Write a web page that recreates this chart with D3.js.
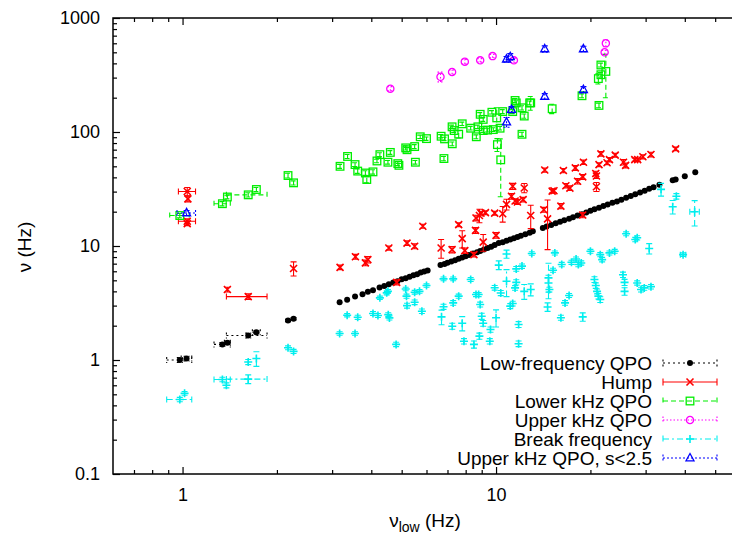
<!DOCTYPE html>
<html lang="en">
<head>
<meta charset="UTF-8">
<title>QPO frequencies vs nu_low</title>
<script src="https://d3js.org/d3.v7.min.js"></script>
<style>
  body { margin: 0; background: #fff; }
</style>
</head>
<body>
<script>
// each point: [nu_low, nu, x error, y error]
var lfqpo = [
  [0.98,1.0,0.09,0.05],[1.03,1.03,0.04,0.05],[1.34,1.37,0.08,0.05],[1.39,1.42,0.03,0.04],
  [1.62,1.64,0.24,0.08],[1.72,1.75,0.05,0.05],[2.17,2.22,0,0.05],[2.26,2.30,0,0.05],
  [3.17,3.21,0,0],[3.35,3.38,0,0],[3.55,3.6,0,0],[3.75,3.78,0,0],[3.9,3.97,0,0],[4.05,4.1,0,0],
  [4.25,4.33,0,0],[4.4,4.45,0,0],[4.55,4.62,0,0],[4.7,4.78,0,0],[4.85,4.9,0,0],[5.0,5.1,0,0],
  [5.15,5.22,0,0],[5.3,5.38,0,0],[5.45,5.55,0,0],[5.6,5.66,0,0],[5.75,5.85,0,0],[5.9,5.98,0,0],
  [6.05,6.1,0,0],[6.65,6.8,0,0],[6.85,6.95,0,0],[7.0,7.12,0,0],[7.2,7.3,0,0],[7.4,7.5,0,0],
  [7.6,7.72,0,0],[7.8,7.92,0,0],[8.0,8.15,0,0],[8.2,8.33,0,0],[8.45,8.6,0,0],[8.7,8.8,0,0],
  [8.9,9.05,0,0],[9.15,9.3,0,0],[9.4,9.6,0,0],[9.65,9.85,0,0],[9.9,10.2,0,0],[10.2,10.6,0,0],
  [10.5,10.8,0,0],[10.8,11.1,0,0],[11.1,11.4,0,0],[11.4,11.7,0,0],[11.7,12.0,0,0],[12.0,12.3,0,0],
  [12.4,12.7,0,0],[12.8,13.1,0,0],[13.1,13.5,0,0],[14.1,14.4,0,0],[14.5,14.8,0,0],[15.0,15.3,0,0],
  [15.5,15.8,0,0],[16.0,16.3,0,0],[16.5,16.8,0,0],[17.1,17.3,0,0],[17.6,17.9,0,0],[18.2,18.5,0,0],
  [18.8,19.0,0,0],[19.4,19.7,0,0],[20.0,20.4,0,0],[20.6,21.0,0,0],[21.3,21.6,0,0],[22.0,22.4,0,0],
  [22.7,23.1,0,0],[23.5,23.9,0,0],[24.3,24.6,0,0],[25.1,25.4,0,0],[26.0,26.5,0,0],[26.9,27.5,0,0],
  [27.8,28.5,0,0],[28.8,29.5,0,0],[29.8,30.6,0,0],[30.8,31.8,0,0],[31.8,32.8,0,0],[33.2,34.4,0,0],
  [36.6,37.7,0,0],[37.4,38.4,0,0],[40.0,40.9,0,0],[43.2,44.4,0,0]
];
var hump = [
  [1.035,30.1,0.065,2.5],[1.04,25.9,0,1.5],[1.035,16.5,0.065,0.8],[1.035,15.7,0,0.6],
  [1.39,4.15,0,0.2],[1.62,3.6,0.24,0.2],[2.26,6.35,0,0.9],
  [3.18,6.5,0,0.3],[3.56,8.05,0,0.4],[3.83,7.12,0,0.4],[3.9,7.6,0,0.5],[4.55,9.6,0,0.4],
  [4.82,4.8,0,0.25],[5.2,10.6,0,0.5],[5.5,9.95,0,0.5],[5.84,14.9,0,0.6],
  [6.68,9.6,0,1.8],[7.24,9.3,0,0.6],[7.6,15.4,0,0.6],[7.8,11.6,0,2.0],[7.95,9.1,0,0.5],
  [8.5,8.4,0,0.4],[8.6,13.7,0,0.8],[8.63,17.6,0,1.0],[8.85,18.5,0,2.5],[8.95,19.4,0,0.8],
  [9.1,10.8,0,1.8],[9.25,19.6,0,0.8],[9.9,19.4,0,0.8],[10.0,12.4,0,0.7],[10.5,19.2,0,3],
  [10.8,23.2,0,2.5],[11.3,33.4,0,2],[11.2,27.3,0,1.5],[11.5,24.8,0,1.2],[11.7,24.3,0,1.2],
  [12.2,25.5,0,1.2],[12.3,32.3,0,3],[12.9,18.5,0,4.3],
  [14.2,20.8,0,1],[14.6,17.3,0,8],[14.3,46.4,0,2],[15.1,30.3,0,1.2],[15.3,30.5,0,1.2],
  [16.1,22.4,0,1.2],[16.4,45.9,0,2],[16.7,33.8,0,1.5],[17.2,32.2,0,1.5],[17.9,48.4,0,2.5],
  [18.2,37,0,2],[18.9,40.4,0,2],[19.0,54.3,0,2.5],[18.9,18.7,0,1],[20.9,33.1,0,3],
  [20.9,41.1,0,2],[20.8,43.2,0,2],[21.3,51.7,0,2],[21.6,64.3,0,3],[22.6,53.7,0,2],
  [23,57.2,0,2.5],[24,62.6,0,2.5],[25.5,54.3,0,3],[25.9,51,0,2.5],[27.7,57.2,0,2],
  [28.3,57.2,0,2],[29.4,60.6,0,2.5],[31.2,63.5,0,3],[37.4,71.2,0,2.5]
];
var lowerKhz = [
  [0.98,18.5,0.07,0.8],[1.34,23.5,0.08,1],[1.39,26.9,0,1],[1.62,28.1,0.24,1.2],[1.72,31.3,0,1.3],
  [2.17,41.5,0,2],[2.26,35.8,0,1.5],
  [3.18,50,0,2],[3.36,61,0,2.5],[3.55,51.8,0,2],[3.62,45.4,0,2],[3.83,43.7,0,2],[3.87,38.3,0,2.5],
  [4.05,44.7,0,2],[4.17,55.7,0,2],[4.26,63.3,0,2.5],[4.52,54.3,0,2],[4.6,66.2,0,2.5],[4.86,52.8,0,2],
  [4.9,51,0,2],[5.15,72.6,0,3],[5.2,69.9,0,3],[5.5,74.5,0,3],[5.53,54.3,0,2],[5.73,90.8,0,3],
  [6.0,87.5,0,3],[6.68,91.8,0,3],[6.85,87,0,3],[6.82,58.5,0,2.5],[7.25,78.8,0,3],[7.24,111,0,4],
  [7.35,103,0,4],[7.6,95.7,0,7],[7.8,118,0,4],[8.3,108,0,4],[8.65,90.8,0,3.5],[8.75,111,0,4],
  [8.9,143,0,5],[9.1,129,0,5],[9.1,103,0,4],[9.4,104,0,4],[9.7,149,0,5],[9.8,105,0,4],
  [10.05,133,0,30],[10.1,77.5,0,10],[10.3,108,0,4],[10.35,57,0,30],[10.5,151,0,6],[11.3,151,0,6],
  [11.5,189,0,8],[11.6,180,0,8],[12.1,163,0,7],[12.1,95.5,0,4],[12.3,138,0,6],[12.8,180,0,7],
  [12.9,180,0,25],[15.1,160,0,15],[18.8,208,0,8],[21.3,171,0,8],[21.2,294,0,30],[21.6,387,0,15],
  [22.4,340,0,140],[21.6,318,0,15]
];
var upperKhz = [
  [4.6,240,0,10],[6.65,305,0,30],[7.24,336,0,15],[7.95,414,0,20],[8.9,425,0,15],[9.75,463,0,15],
  [11.4,425,0,20],[22.4,600,0,40],[22.2,500,0,20]
];
var breakFreq = [
  [0.98,0.45,0.09,0.02],[1.015,0.51,0,0.02],[1.34,0.675,0.08,0.03],[1.38,0.6,0,0.03],
  [1.62,0.68,0.24,0.06],[1.62,0.96,0,0.05],[1.72,1.03,0,0.15],[2.17,1.28,0,0.05],[2.26,1.19,0,0.05],
  [3.17,1.71,0,0.06],[3.55,1.71,0,0.06],[3.35,2.47,0,0.08],[3.62,2.37,0,0.1],[4.05,2.56,0,0.1],
  [4.2,2.46,0,0.1],[4.53,2.5,0,0.1],[4.57,2.34,0,0.1],[4.8,1.37,0,0.06],[4.48,3.88,0,0.15],
  [4.26,3.51,0,0.12],[4.52,4.0,0,0.15],[5.15,4.2,0,0.15],[5.18,3.63,0,0.15],[5.2,3.0,0,0.15],
  [5.5,3.21,0,0.15],[5.5,3.93,0,0.15],[5.7,4.0,0,0.15],[5.8,2.68,0,0.12],[6.0,4.5,0,0.15],
  [6.8,5.15,0,0.2],[7.3,5.15,0,0.2],[6.7,2.39,0,0.35],[6.8,2.93,0,0.15],[7.3,3.17,0,0.15],
  [7.6,3.63,0,0.15],[7.25,1.98,0,0.12],[7.8,2.1,0,0.3],[7.9,1.46,0,0.08],[8.3,5.08,0,0.2],
  [8.63,3.75,0,0.15],[8.8,3.75,0,0.15],[8.9,3.07,0,0.15],[9.0,2.42,0,0.15],[9.1,2.1,0,0.12],
  [8.85,1.62,0,0.1],[8.5,1.37,0,0.1],[9.6,1.85,0,0.1],[9.55,1.46,0,0.08],[9.9,4.3,0,0.2],
  [10.0,2.35,0,0.4],[10.2,6.8,0,0.6],[10.35,3.87,0,0.2],[10.8,4.9,0,1.3],[10.8,8.5,0,0.7],
  [11.1,2.97,0,0.15],[11.3,3.13,0,0.15],[11.6,6.3,0,0.3],[11.8,2.05,0,0.12],[12.1,6.66,0,0.3],
  [11.6,4.8,0,0.25],[11.5,4.29,0,0.2],[12.3,4.0,0,0.6],[12.9,4.15,0,0.5],[11.8,1.39,0,0.08],
  [13.0,8.6,0,0.3],[14.6,2.92,0,0.25],[14.8,4.15,0,0.2],[14.7,4.74,0,0.8],[14.7,5.25,0,1.8],
  [15.2,6.13,0,0.25],[15.4,8.7,0,0.35],[16.1,2.35,0,0.12],[16.2,6.88,0,0.3],[16.6,3.17,0,0.15],
  [17.1,3.68,0,0.15],[17.4,7.2,0,0.3],[18.0,7.7,0,0.3],[18.3,6.88,0,0.3],[18.7,7.1,0,0.3],
  [18.9,2.39,0,0.2],[20.0,9.0,0,0.35],[20.6,5.08,0,0.3],[20.8,4.5,0,0.25],[21.0,4.0,0,0.2],
  [21.2,3.63,0,0.2],[21.5,3.39,0,0.2],[21.5,8.4,0,0.35],[21.8,7.6,0,0.35],[23.0,8.7,0,0.35],
  [23.9,9.0,0,0.35],[25.4,5.6,0,0.3],[25.7,4.8,0,0.3],[25.7,4.0,0,0.3],[28.2,4.74,0,0.2],
  [29.0,4.15,0,0.2],[29.7,4.29,0,0.2],[31.2,4.4,0,0.2],[26.0,12.8,0,0.5],[27.8,11.4,0,0.5],
  [28.2,11.8,0,0.5],[30.8,9.5,0,1.0],[39.5,8.4,0.8,0.3],[33.6,31.4,0,4],[37.6,27.3,0,1.5],
  [36.6,22.1,0,3],[43.0,20.0,1.5,5]
];
var upperKhzS25 = [
  [1.03,19.5,0.07,1.0],[11.1,457,0,30],[10.8,435,0,25],[11.2,157,0,10],[10.8,122,0,12],
  [14.3,535,0,35],[19.0,535,0,30],[14.3,205,0,12],[19.0,235,0,15]
];

var xTicks = [1, 10];
var yTicks = [0.1, 1, 10, 100, 1000];
var xMinor = [0.7, 0.8, 0.9, 2, 3, 4, 5, 6, 7, 8, 9, 20, 30, 40, 50];
var yMinor = [];
[0.1, 1, 10, 100].forEach(function (d) {
  for (var k = 2; k <= 9; k++) yMinor.push(+(d * k).toPrecision(2));
});

var series = [
  { name: "Low-frequency QPO",     data: lfqpo,       color: "#000000", dash: "2,3",     mark: "dot" },
  { name: "Hump",                  data: hump,        color: "#ff0000", dash: null,      mark: "cross" },
  { name: "Lower kHz QPO",         data: lowerKhz,    color: "#00ee00", dash: "5,3",     mark: "square" },
  { name: "Upper kHz QPO",         data: upperKhz,    color: "#ff00ff", dash: "1.5,2",   mark: "circle" },
  { name: "Break frequency",       data: breakFreq,   color: "#00eeee", dash: "6,3,2,3", mark: "plus" },
  { name: "Upper kHz QPO, s<2.5",  data: upperKhzS25, color: "#0000ff", dash: "2,2",     mark: "triangle" }
];

var ancho = 732, alto = 539;
var izq = 113, der = 740, arriba = 18, abajo = 474;

var x = d3.scaleLog().domain([0.6, 60]).range([izq, der]);
var y = d3.scaleLog().domain([0.1, 1000]).range([abajo, arriba]);

var svg = d3.select("body").append("svg")
  .attr("width", ancho)
  .attr("height", alto)
  .style("font-family", "'Liberation Sans', Arial, Helvetica, sans-serif");

svg.append("defs").append("clipPath").attr("id", "area")
  .append("rect").attr("x", izq).attr("y", arriba)
  .attr("width", der - izq).attr("height", abajo - arriba);

// axes, ticks pointing inward like gnuplot
function eje(gen, tx, ty, vals, size, labels, pad) {
  var g = svg.append("g")
    .attr("transform", "translate(" + tx + "," + ty + ")")
    .call(gen.tickValues(vals).tickSizeInner(size).tickSizeOuter(0)
      .tickPadding(pad || 0)
      .tickFormat(labels ? function (d) { return d; } : ""));
  g.select(".domain").remove();
  g.selectAll("line").attr("stroke", "#000").attr("stroke-width", 1.2);
  g.selectAll("text").attr("font-size", 18).attr("fill", "#000").style("font-family", "inherit");
  return g;
}
eje(d3.axisBottom(x), 0, abajo, xTicks, -7, true, 14);
eje(d3.axisBottom(x), 0, abajo, xMinor, -4, false);
eje(d3.axisTop(x), 0, arriba, xTicks, -7, false);
eje(d3.axisTop(x), 0, arriba, xMinor, -4, false);
eje(d3.axisLeft(y), izq, 0, yTicks, -7, true, 13);
eje(d3.axisLeft(y), izq, 0, yMinor, -4, false);
eje(d3.axisRight(y), der, 0, yTicks, -7, false);
eje(d3.axisRight(y), der, 0, yMinor, -4, false);

svg.append("rect")
  .attr("x", izq).attr("y", arriba)
  .attr("width", der - izq).attr("height", abajo - arriba)
  .attr("fill", "none").attr("stroke", "#000").attr("stroke-width", 1.5);

// axis titles
svg.append("text")
  .attr("transform", "translate(31,247) rotate(-90)")
  .attr("text-anchor", "middle")
  .attr("font-size", 19)
  .text("\u03bd (Hz)");

var xt = svg.append("text")
  .attr("x", 425).attr("y", 527)
  .attr("text-anchor", "middle")
  .attr("font-size", 19);
xt.append("tspan").text("\u03bd");
xt.append("tspan").attr("font-size", 14).attr("dy", 5).text("low");
xt.append("tspan").attr("dy", -5).text(" (Hz)");

// markers
function marca(g, tipo, color) {
  if (tipo == "dot") {
    g.append("circle").attr("r", 3).attr("fill", color);
  } else if (tipo == "cross") {
    g.append("path").attr("d", "M-3.5,-3.5L3.5,3.5M-3.5,3.5L3.5,-3.5")
      .attr("stroke", color).attr("stroke-width", 1.6).attr("fill", "none");
  } else if (tipo == "square") {
    g.append("rect").attr("x", -3.8).attr("y", -3.8).attr("width", 7.6).attr("height", 7.6)
      .attr("stroke", color).attr("stroke-width", 1.3).attr("fill", "none");
  } else if (tipo == "circle") {
    g.append("circle").attr("r", 3.6)
      .attr("stroke", color).attr("stroke-width", 1.3).attr("fill", "none");
  } else if (tipo == "plus") {
    g.append("path").attr("d", "M-4,0L4,0M0,-4L0,4")
      .attr("stroke", color).attr("stroke-width", 1.6).attr("fill", "none");
  } else if (tipo == "triangle") {
    g.append("path").attr("d", "M0,-4.5L4,2.8L-4,2.8Z")
      .attr("stroke", color).attr("stroke-width", 1.3).attr("fill", "none");
  }
}

var plot = svg.append("g").attr("clip-path", "url(#area)");
var cap = 3;

series.forEach(function (s) {
  var g = plot.append("g");
  var eb = g.append("g")
    .attr("stroke", s.color)
    .attr("stroke-width", 1.1)
    .attr("stroke-dasharray", s.dash)
    .attr("fill", "none");

  s.data.forEach(function (d) {
    var px = x(d[0]), py = y(d[1]);
    if (d[3] > 0) {
      var y1 = y(d[1] + d[3]), y0 = y(Math.max(d[1] - d[3], 0.01));
      eb.append("path").attr("d",
        "M" + px + "," + y0 + "L" + px + "," + y1 +
        "M" + (px - cap) + "," + y0 + "L" + (px + cap) + "," + y0 +
        "M" + (px - cap) + "," + y1 + "L" + (px + cap) + "," + y1);
    }
    if (d[2] > 0) {
      var x0 = x(d[0] - d[2]), x1 = x(d[0] + d[2]);
      eb.append("path").attr("d",
        "M" + x0 + "," + py + "L" + x1 + "," + py +
        "M" + x0 + "," + (py - cap) + "L" + x0 + "," + (py + cap) +
        "M" + x1 + "," + (py - cap) + "L" + x1 + "," + (py + cap));
    }
  });

  g.selectAll(".pt").data(s.data).enter().append("g")
    .attr("class", "pt")
    .attr("transform", function (d) { return "translate(" + x(d[0]) + "," + y(d[1]) + ")"; })
    .each(function () { marca(d3.select(this), s.mark, s.color); });
});

// legend
var ley = svg.append("g");
series.forEach(function (s, i) {
  var yy = 363 + i * 19;
  ley.append("text")
    .attr("x", 652).attr("y", yy)
    .attr("dy", "0.35em")
    .attr("text-anchor", "end")
    .attr("font-size", 19)
    .text(s.name);
  ley.append("path")
    .attr("d", "M663," + yy + "L717," + yy + "M663," + (yy - 3.5) + "L663," + (yy + 3.5) +
      "M717," + (yy - 3.5) + "L717," + (yy + 3.5))
    .attr("stroke", s.color).attr("stroke-width", 1.1)
    .attr("stroke-dasharray", s.dash).attr("fill", "none");
  var m = ley.append("g").attr("transform", "translate(690," + yy + ")");
  marca(m, s.mark, s.color);
});
</script>
</body>
</html>
